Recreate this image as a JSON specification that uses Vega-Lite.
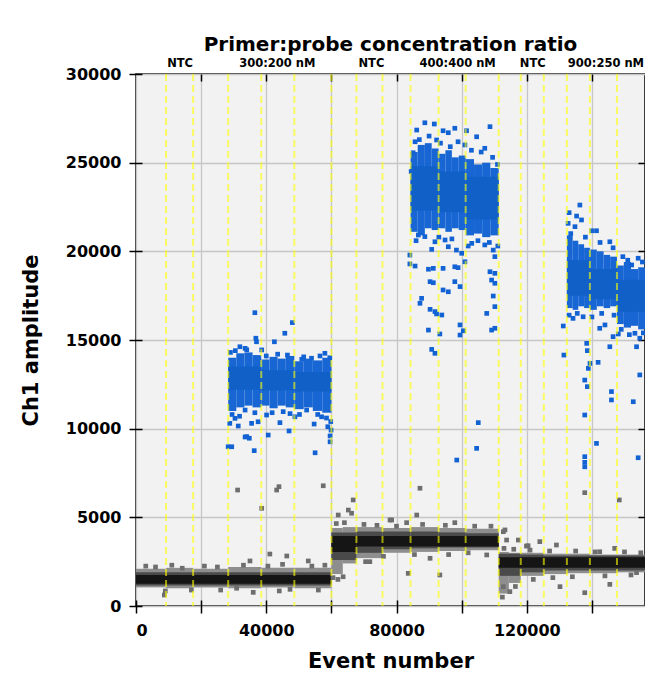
{
  "$schema": "https://vega.github.io/schema/vega-lite/v6.json",
  "width": 509,
  "height": 532,
  "autosize": {"type": "none"},
  "padding": {"left": 136, "top": 74, "right": 0, "bottom": 69},
  "background": "white",
  "config": {
    "view": {"fill": "#f2f2f2", "stroke": "black", "strokeWidth": 1.5},
    "font": "DejaVu Sans"
  },
  "title": {"text": "Primer:probe concentration ratio", "fontSize": 20, "fontWeight": "bold", "color": "black", "anchor": "middle", "offset": 0, "dy": -3, "font": "DejaVu Sans"},
  "datasets": {
    "rects": [
      {"x": 0, "x2": 9230, "y": 1050, "y2": 2100, "k": "f"},
      {"x": 9230, "x2": 17540, "y": 1000, "y2": 2150, "k": "f"},
      {"x": 17540, "x2": 28310, "y": 1050, "y2": 2100, "k": "f"},
      {"x": 28310, "x2": 38460, "y": 1000, "y2": 2200, "k": "f"},
      {"x": 38460, "x2": 48620, "y": 1050, "y2": 2150, "k": "f"},
      {"x": 48620, "x2": 60000, "y": 1000, "y2": 2150, "k": "f"},
      {"x": 0, "x2": 60000, "y": 1150, "y2": 1900, "k": "m"},
      {"x": 0, "x2": 60000, "y": 1250, "y2": 1750, "k": "c"},
      {"x": 60000, "x2": 63500, "y": 1800, "y2": 4400, "k": "f"},
      {"x": 63500, "x2": 67690, "y": 2400, "y2": 4450, "k": "f"},
      {"x": 67690, "x2": 75690, "y": 2700, "y2": 4450, "k": "f"},
      {"x": 75690, "x2": 84310, "y": 3000, "y2": 4400, "k": "f"},
      {"x": 84310, "x2": 92920, "y": 3050, "y2": 4450, "k": "f"},
      {"x": 92920, "x2": 101230, "y": 3100, "y2": 4400, "k": "f"},
      {"x": 101230, "x2": 111380, "y": 3150, "y2": 4350, "k": "f"},
      {"x": 60000, "x2": 67690, "y": 2600, "y2": 4150, "k": "m"},
      {"x": 67690, "x2": 75690, "y": 3000, "y2": 4200, "k": "m"},
      {"x": 75690, "x2": 84310, "y": 3200, "y2": 4200, "k": "m"},
      {"x": 84310, "x2": 92920, "y": 3250, "y2": 4200, "k": "m"},
      {"x": 92920, "x2": 101230, "y": 3300, "y2": 4150, "k": "m"},
      {"x": 101230, "x2": 111380, "y": 3300, "y2": 4100, "k": "m"},
      {"x": 60000, "x2": 67690, "y": 3050, "y2": 3950, "k": "c"},
      {"x": 67690, "x2": 111380, "y": 3350, "y2": 3950, "k": "c"},
      {"x": 111380, "x2": 114500, "y": 700, "y2": 3050, "k": "f"},
      {"x": 114500, "x2": 118150, "y": 1300, "y2": 3000, "k": "f"},
      {"x": 118150, "x2": 125230, "y": 1700, "y2": 3000, "k": "f"},
      {"x": 125230, "x2": 132310, "y": 1800, "y2": 2950, "k": "f"},
      {"x": 132310, "x2": 139380, "y": 1850, "y2": 2950, "k": "f"},
      {"x": 139380, "x2": 147690, "y": 1850, "y2": 2900, "k": "f"},
      {"x": 147690, "x2": 156300, "y": 1900, "y2": 2900, "k": "f"},
      {"x": 111380, "x2": 118150, "y": 1700, "y2": 2950, "k": "m"},
      {"x": 118150, "x2": 125230, "y": 1900, "y2": 2900, "k": "m"},
      {"x": 125230, "x2": 156300, "y": 2000, "y2": 2850, "k": "m"},
      {"x": 111380, "x2": 156300, "y": 2150, "y2": 2750, "k": "c"},
      {"x": 28310, "x2": 30800, "y": 11000, "y2": 14000, "k": "b"},
      {"x": 30800, "x2": 33300, "y": 11200, "y2": 14250, "k": "b"},
      {"x": 33300, "x2": 35800, "y": 11300, "y2": 14300, "k": "b"},
      {"x": 35800, "x2": 38460, "y": 11200, "y2": 14150, "k": "b"},
      {"x": 38460, "x2": 41000, "y": 11300, "y2": 13900, "k": "b"},
      {"x": 41000, "x2": 43500, "y": 11150, "y2": 14050, "k": "b"},
      {"x": 43500, "x2": 46000, "y": 11300, "y2": 13950, "k": "b"},
      {"x": 46000, "x2": 48620, "y": 11200, "y2": 14100, "k": "b"},
      {"x": 48620, "x2": 51500, "y": 11100, "y2": 13800, "k": "b"},
      {"x": 51500, "x2": 54300, "y": 11200, "y2": 13950, "k": "b"},
      {"x": 54300, "x2": 57200, "y": 11000, "y2": 13850, "k": "b"},
      {"x": 57200, "x2": 60000, "y": 10900, "y2": 14000, "k": "b"},
      {"x": 84310, "x2": 86500, "y": 21100, "y2": 25600, "k": "b"},
      {"x": 86500, "x2": 88700, "y": 20900, "y2": 26000, "k": "b"},
      {"x": 88700, "x2": 90800, "y": 21300, "y2": 26100, "k": "b"},
      {"x": 90800, "x2": 92920, "y": 21200, "y2": 25800, "k": "b"},
      {"x": 92920, "x2": 95000, "y": 21300, "y2": 25500, "k": "b"},
      {"x": 95000, "x2": 97000, "y": 21100, "y2": 25700, "k": "b"},
      {"x": 97000, "x2": 99100, "y": 21300, "y2": 25300, "k": "b"},
      {"x": 99100, "x2": 101230, "y": 21200, "y2": 25400, "k": "b"},
      {"x": 101230, "x2": 103800, "y": 20900, "y2": 25200, "k": "b"},
      {"x": 103800, "x2": 106300, "y": 21000, "y2": 24900, "k": "b"},
      {"x": 106300, "x2": 108800, "y": 20800, "y2": 25000, "k": "b"},
      {"x": 108800, "x2": 111380, "y": 20900, "y2": 24700, "k": "b"},
      {"x": 132310, "x2": 134100, "y": 16800, "y2": 20900, "k": "b"},
      {"x": 134100, "x2": 135800, "y": 16700, "y2": 20600, "k": "b"},
      {"x": 135800, "x2": 137600, "y": 16900, "y2": 20400, "k": "b"},
      {"x": 137600, "x2": 139380, "y": 16800, "y2": 20200, "k": "b"},
      {"x": 139380, "x2": 141500, "y": 16700, "y2": 20100, "k": "b"},
      {"x": 141500, "x2": 143600, "y": 16900, "y2": 20000, "k": "b"},
      {"x": 143600, "x2": 145600, "y": 16800, "y2": 19800, "k": "b"},
      {"x": 145600, "x2": 147690, "y": 16900, "y2": 19700, "k": "b"},
      {"x": 147690, "x2": 149800, "y": 15900, "y2": 19200, "k": "b"},
      {"x": 149800, "x2": 152000, "y": 15700, "y2": 19400, "k": "b"},
      {"x": 152000, "x2": 154200, "y": 15800, "y2": 19000, "k": "b"},
      {"x": 154200, "x2": 156300, "y": 15600, "y2": 19100, "k": "b"},
      {"x": 28310, "x2": 38460, "y": 12200, "y2": 13500, "k": "d"},
      {"x": 38460, "x2": 48620, "y": 12150, "y2": 13300, "k": "d"},
      {"x": 48620, "x2": 60000, "y": 12100, "y2": 13200, "k": "d"},
      {"x": 84310, "x2": 92920, "y": 22300, "y2": 24800, "k": "d"},
      {"x": 92920, "x2": 101230, "y": 22200, "y2": 24500, "k": "d"},
      {"x": 101230, "x2": 111380, "y": 21800, "y2": 24200, "k": "d"},
      {"x": 132310, "x2": 139380, "y": 17500, "y2": 19500, "k": "d"},
      {"x": 139380, "x2": 147690, "y": 17300, "y2": 19000, "k": "d"},
      {"x": 147690, "x2": 156300, "y": 16600, "y2": 18400, "k": "d"}
    ],
    "pts": [
      {"x": 36500, "y": 16540, "k": "p"}, {"x": 48000, "y": 15980, "k": "p"}, {"x": 45700, "y": 15380, "k": "p"}, {"x": 36800, "y": 15100, "k": "p"},
      {"x": 37000, "y": 14900, "k": "p"}, {"x": 42500, "y": 14900, "k": "p"}, {"x": 31900, "y": 14620, "k": "p"}, {"x": 58000, "y": 14250, "k": "p"},
      {"x": 33500, "y": 14530, "k": "p"}, {"x": 38600, "y": 14440, "k": "p"}, {"x": 50900, "y": 13910, "k": "p"}, {"x": 53900, "y": 13970, "k": "p"},
      {"x": 29400, "y": 8980, "k": "p"}, {"x": 28300, "y": 8980, "k": "p"}, {"x": 34000, "y": 9550, "k": "p"}, {"x": 34800, "y": 9460, "k": "p"},
      {"x": 36300, "y": 8760, "k": "p"}, {"x": 40600, "y": 9640, "k": "p"}, {"x": 47000, "y": 9870, "k": "p"}, {"x": 55000, "y": 8640, "k": "p"},
      {"x": 58900, "y": 10110, "k": "p"}, {"x": 59900, "y": 9920, "k": "p"}, {"x": 59600, "y": 9590, "k": "p"}, {"x": 59600, "y": 9260, "k": "p"},
      {"x": 33500, "y": 9530, "k": "p"}, {"x": 31400, "y": 10150, "k": "p"}, {"x": 35500, "y": 10300, "k": "p"}, {"x": 37500, "y": 10390, "k": "p"},
      {"x": 44200, "y": 10340, "k": "p"}, {"x": 48800, "y": 10670, "k": "p"}, {"x": 54700, "y": 10260, "k": "p"}, {"x": 52400, "y": 11050, "k": "p"},
      {"x": 40100, "y": 10770, "k": "p"}, {"x": 33500, "y": 11050, "k": "p"}, {"x": 30400, "y": 10580, "k": "p"}, {"x": 45200, "y": 10960, "k": "p"},
      {"x": 57000, "y": 10670, "k": "p"}, {"x": 29000, "y": 14300, "k": "p"}, {"x": 30500, "y": 14400, "k": "p"}, {"x": 34000, "y": 14450, "k": "p"},
      {"x": 40000, "y": 14100, "k": "p"}, {"x": 43500, "y": 14200, "k": "p"}, {"x": 46500, "y": 14150, "k": "p"}, {"x": 51500, "y": 14050, "k": "p"},
      {"x": 56500, "y": 14100, "k": "p"}, {"x": 59500, "y": 14000, "k": "p"}, {"x": 29500, "y": 10800, "k": "p"}, {"x": 31800, "y": 10700, "k": "p"},
      {"x": 36500, "y": 10900, "k": "p"}, {"x": 41800, "y": 10900, "k": "p"}, {"x": 47300, "y": 10850, "k": "p"}, {"x": 50200, "y": 10800, "k": "p"},
      {"x": 55800, "y": 10800, "k": "p"}, {"x": 58500, "y": 10600, "k": "p"}, {"x": 28800, "y": 10300, "k": "p"}, {"x": 59800, "y": 10400, "k": "p"},
      {"x": 88700, "y": 27250, "k": "p"}, {"x": 91600, "y": 27180, "k": "p"}, {"x": 86200, "y": 26840, "k": "p"}, {"x": 94300, "y": 26800, "k": "p"},
      {"x": 95900, "y": 26690, "k": "p"}, {"x": 97900, "y": 26940, "k": "p"}, {"x": 101500, "y": 26800, "k": "p"}, {"x": 104600, "y": 26460, "k": "p"},
      {"x": 108700, "y": 27030, "k": "p"}, {"x": 107100, "y": 25810, "k": "p"}, {"x": 98900, "y": 26180, "k": "p"}, {"x": 101000, "y": 26000, "k": "p"},
      {"x": 92300, "y": 26280, "k": "p"}, {"x": 85700, "y": 26180, "k": "p"}, {"x": 85100, "y": 25560, "k": "p"},
      {"x": 86700, "y": 20920, "k": "p"}, {"x": 88700, "y": 20830, "k": "p"}, {"x": 91800, "y": 20540, "k": "p"}, {"x": 95900, "y": 20260, "k": "p"},
      {"x": 98400, "y": 20070, "k": "p"}, {"x": 100000, "y": 19890, "k": "p"}, {"x": 103100, "y": 20450, "k": "p"}, {"x": 107100, "y": 20360, "k": "p"},
      {"x": 109700, "y": 20070, "k": "p"}, {"x": 110200, "y": 19700, "k": "p"}, {"x": 94900, "y": 20640, "k": "p"},
      {"x": 84100, "y": 19790, "k": "p"}, {"x": 84100, "y": 19290, "k": "p"}, {"x": 85700, "y": 19170, "k": "p"}, {"x": 90800, "y": 20110, "k": "p"},
      {"x": 89800, "y": 18990, "k": "p"}, {"x": 91300, "y": 19040, "k": "p"}, {"x": 94300, "y": 19040, "k": "p"}, {"x": 97900, "y": 19130, "k": "p"},
      {"x": 98900, "y": 19080, "k": "p"}, {"x": 101000, "y": 19410, "k": "p"}, {"x": 108700, "y": 18850, "k": "p"}, {"x": 110200, "y": 18760, "k": "p"},
      {"x": 90300, "y": 18290, "k": "p"}, {"x": 91300, "y": 18230, "k": "p"}, {"x": 97900, "y": 18290, "k": "p"}, {"x": 99500, "y": 18010, "k": "p"},
      {"x": 94300, "y": 17820, "k": "p"}, {"x": 95900, "y": 17720, "k": "p"}, {"x": 87700, "y": 17350, "k": "p"}, {"x": 87200, "y": 17070, "k": "p"},
      {"x": 90300, "y": 16730, "k": "p"}, {"x": 91800, "y": 16600, "k": "p"}, {"x": 92300, "y": 16470, "k": "p"}, {"x": 93900, "y": 16410, "k": "p"},
      {"x": 99500, "y": 15850, "k": "p"}, {"x": 100500, "y": 15520, "k": "p"}, {"x": 99500, "y": 15280, "k": "p"}, {"x": 89800, "y": 15560, "k": "p"},
      {"x": 93300, "y": 15340, "k": "p"}, {"x": 109200, "y": 15560, "k": "p"}, {"x": 110200, "y": 15660, "k": "p"}, {"x": 109700, "y": 17480, "k": "p"},
      {"x": 110200, "y": 16880, "k": "p"}, {"x": 107700, "y": 16500, "k": "p"}, {"x": 110200, "y": 18200, "k": "p"}, {"x": 109200, "y": 18380, "k": "p"},
      {"x": 90800, "y": 14470, "k": "p"}, {"x": 91800, "y": 14250, "k": "p"}, {"x": 105100, "y": 10340, "k": "p"}, {"x": 104600, "y": 8890, "k": "p"},
      {"x": 98500, "y": 8230, "k": "p"},
      {"x": 87000, "y": 26300, "k": "p"}, {"x": 90000, "y": 26500, "k": "p"}, {"x": 93500, "y": 26100, "k": "p"}, {"x": 96500, "y": 25900, "k": "p"},
      {"x": 103000, "y": 25700, "k": "p"}, {"x": 106000, "y": 25600, "k": "p"}, {"x": 109500, "y": 25300, "k": "p"}, {"x": 111000, "y": 24900, "k": "p"},
      {"x": 84500, "y": 24500, "k": "p"}, {"x": 86000, "y": 20600, "k": "p"}, {"x": 93000, "y": 20800, "k": "p"}, {"x": 97000, "y": 20700, "k": "p"},
      {"x": 102000, "y": 20300, "k": "p"}, {"x": 105000, "y": 20600, "k": "p"}, {"x": 108500, "y": 20500, "k": "p"}, {"x": 111100, "y": 20300, "k": "p"},
      {"x": 136300, "y": 22610, "k": "p"}, {"x": 133000, "y": 22180, "k": "p"}, {"x": 135300, "y": 21990, "k": "p"}, {"x": 136800, "y": 21770, "k": "p"},
      {"x": 134800, "y": 21390, "k": "p"}, {"x": 132700, "y": 21580, "k": "p"}, {"x": 141400, "y": 21160, "k": "p"}, {"x": 139900, "y": 21160, "k": "p"},
      {"x": 145500, "y": 20540, "k": "p"}, {"x": 152200, "y": 19230, "k": "p"}, {"x": 154200, "y": 19610, "k": "p"}, {"x": 131200, "y": 15790, "k": "p"},
      {"x": 131400, "y": 14150, "k": "p"}, {"x": 137800, "y": 10770, "k": "p"}, {"x": 137800, "y": 8420, "k": "p"}, {"x": 137800, "y": 7850, "k": "p"},
      {"x": 141400, "y": 9170, "k": "p"}, {"x": 139400, "y": 13680, "k": "p"}, {"x": 141900, "y": 13740, "k": "p"}, {"x": 137800, "y": 12740, "k": "p"},
      {"x": 138600, "y": 12370, "k": "p"}, {"x": 146000, "y": 12090, "k": "p"}, {"x": 146000, "y": 11620, "k": "p"}, {"x": 152700, "y": 11520, "k": "p"},
      {"x": 154700, "y": 13030, "k": "p"}, {"x": 145500, "y": 14620, "k": "p"}, {"x": 146500, "y": 15190, "k": "p"}, {"x": 148100, "y": 15340, "k": "p"},
      {"x": 142400, "y": 15660, "k": "p"}, {"x": 144000, "y": 15850, "k": "p"}, {"x": 134200, "y": 16220, "k": "p"}, {"x": 137300, "y": 16310, "k": "p"},
      {"x": 138400, "y": 14810, "k": "p"}, {"x": 138600, "y": 14400, "k": "p"}, {"x": 138900, "y": 13400, "k": "p"}, {"x": 153700, "y": 14620, "k": "p"},
      {"x": 154700, "y": 15100, "k": "p"}, {"x": 153200, "y": 15380, "k": "p"}, {"x": 154200, "y": 8360, "k": "p"}, {"x": 137800, "y": 8100, "k": "p"},
      {"x": 133500, "y": 21000, "k": "p"}, {"x": 138000, "y": 20800, "k": "p"}, {"x": 142500, "y": 20500, "k": "p"}, {"x": 146500, "y": 20200, "k": "p"},
      {"x": 149500, "y": 19700, "k": "p"}, {"x": 151000, "y": 19500, "k": "p"}, {"x": 155500, "y": 19400, "k": "p"}, {"x": 133000, "y": 16400, "k": "p"},
      {"x": 135500, "y": 16500, "k": "p"}, {"x": 140000, "y": 16300, "k": "p"}, {"x": 143000, "y": 16500, "k": "p"}, {"x": 146800, "y": 16400, "k": "p"},
      {"x": 149000, "y": 15600, "k": "p"}, {"x": 151500, "y": 15300, "k": "p"}, {"x": 155800, "y": 15400, "k": "p"},
      {"x": 41100, "y": 2930, "k": "n"}, {"x": 46300, "y": 2820, "k": "n"}, {"x": 35000, "y": 2540, "k": "n"}, {"x": 52900, "y": 2540, "k": "n"},
      {"x": 14200, "y": 2130, "k": "n"}, {"x": 8700, "y": 620, "k": "n"}, {"x": 36000, "y": 770, "k": "n"}, {"x": 47300, "y": 940, "k": "n"},
      {"x": 30900, "y": 1000, "k": "n"}, {"x": 31200, "y": 6540, "k": "n"}, {"x": 43200, "y": 6540, "k": "n"}, {"x": 43900, "y": 6730, "k": "n"},
      {"x": 57500, "y": 6780, "k": "n"}, {"x": 38600, "y": 5510, "k": "n"}, {"x": 66700, "y": 5980, "k": "n"}, {"x": 65200, "y": 5410, "k": "n"},
      {"x": 66200, "y": 5230, "k": "n"}, {"x": 87200, "y": 6640, "k": "n"}, {"x": 62100, "y": 5130, "k": "n"}, {"x": 86200, "y": 5130, "k": "n"},
      {"x": 78000, "y": 4850, "k": "n"}, {"x": 83100, "y": 4700, "k": "n"}, {"x": 97900, "y": 4700, "k": "n"}, {"x": 113300, "y": 4290, "k": "n"},
      {"x": 113800, "y": 3720, "k": "n"}, {"x": 63600, "y": 1650, "k": "n"}, {"x": 90300, "y": 2690, "k": "n"}, {"x": 93300, "y": 1750, "k": "n"},
      {"x": 107700, "y": 2880, "k": "n"}, {"x": 83600, "y": 1840, "k": "n"}, {"x": 71800, "y": 2500, "k": "n"}, {"x": 120400, "y": 3400, "k": "n"},
      {"x": 124000, "y": 3630, "k": "n"}, {"x": 129100, "y": 3440, "k": "n"}, {"x": 117400, "y": 3720, "k": "n"}, {"x": 112800, "y": 4190, "k": "n"},
      {"x": 112800, "y": 1090, "k": "n"}, {"x": 114800, "y": 810, "k": "n"}, {"x": 130200, "y": 1090, "k": "n"}, {"x": 137800, "y": 750, "k": "n"},
      {"x": 145500, "y": 1220, "k": "n"}, {"x": 153700, "y": 1880, "k": "n"}, {"x": 142400, "y": 3060, "k": "n"}, {"x": 147000, "y": 3250, "k": "n"},
      {"x": 137800, "y": 6390, "k": "n"}, {"x": 148400, "y": 5980, "k": "n"}, {"x": 78500, "y": 4850, "k": "n"}, {"x": 119900, "y": 3380, "k": "n"},
      {"x": 3000, "y": 2250, "k": "n"}, {"x": 6000, "y": 2200, "k": "n"}, {"x": 11000, "y": 2300, "k": "n"}, {"x": 21000, "y": 2250, "k": "n"},
      {"x": 25000, "y": 2200, "k": "n"}, {"x": 33000, "y": 2300, "k": "n"}, {"x": 40500, "y": 2250, "k": "n"}, {"x": 45000, "y": 2350, "k": "n"},
      {"x": 54000, "y": 2250, "k": "n"}, {"x": 58000, "y": 2300, "k": "n"}, {"x": 9000, "y": 850, "k": "n"}, {"x": 17000, "y": 900, "k": "n"},
      {"x": 26000, "y": 900, "k": "n"}, {"x": 44000, "y": 850, "k": "n"}, {"x": 56000, "y": 900, "k": "n"},
      {"x": 61500, "y": 4650, "k": "n"}, {"x": 64000, "y": 4700, "k": "n"}, {"x": 70000, "y": 4600, "k": "n"}, {"x": 74000, "y": 4550, "k": "n"},
      {"x": 80000, "y": 4500, "k": "n"}, {"x": 88000, "y": 4600, "k": "n"}, {"x": 95000, "y": 4550, "k": "n"}, {"x": 104000, "y": 4500, "k": "n"},
      {"x": 109000, "y": 4500, "k": "n"}, {"x": 70500, "y": 2500, "k": "n"}, {"x": 76000, "y": 2800, "k": "n"}, {"x": 85500, "y": 2900, "k": "n"},
      {"x": 96000, "y": 2900, "k": "n"}, {"x": 102000, "y": 3000, "k": "n"}, {"x": 60500, "y": 1600, "k": "n"}, {"x": 62000, "y": 1500, "k": "n"},
      {"x": 113000, "y": 3250, "k": "n"}, {"x": 116000, "y": 3200, "k": "n"}, {"x": 121000, "y": 3150, "k": "n"}, {"x": 127000, "y": 3100, "k": "n"},
      {"x": 135000, "y": 3100, "k": "n"}, {"x": 141000, "y": 3050, "k": "n"}, {"x": 150000, "y": 3050, "k": "n"}, {"x": 155000, "y": 3000, "k": "n"},
      {"x": 112500, "y": 500, "k": "n"}, {"x": 116500, "y": 1100, "k": "n"}, {"x": 122000, "y": 1500, "k": "n"}, {"x": 128000, "y": 1600, "k": "n"},
      {"x": 134000, "y": 1650, "k": "n"}, {"x": 144000, "y": 1700, "k": "n"}, {"x": 152000, "y": 1750, "k": "n"}
    ],
    "wells": [
      {"x": 9230}, {"x": 17540}, {"x": 28310}, {"x": 38460}, {"x": 48620}, {"x": 60000}, {"x": 67690}, {"x": 75690}, {"x": 84310},
      {"x": 92920}, {"x": 101230}, {"x": 111380}, {"x": 118150}, {"x": 125230}, {"x": 132310}, {"x": 139380}, {"x": 147690}
    ],
    "labels": [
      {"x": 13540, "label": "NTC"}, {"x": 43400, "label": "300:200 nM"}, {"x": 72300, "label": "NTC"},
      {"x": 98770, "label": "400:400 nM"}, {"x": 121850, "label": "NTC"}, {"x": 144300, "label": "900:250 nM"}
    ]
  },
  "resolve": {"axis": {"x": "independent", "y": "independent"}},
  "layer": [
    {
      "data": {"name": "rects"},
      "mark": {"type": "rect"},
      "encoding": {
        "x": {
          "field": "x", "type": "quantitative",
          "scale": {"domain": [0, 156300], "nice": false, "zero": false},
          "axis": {
            "orient": "bottom", "title": "Event number", "values": [0, 20000, 40000, 60000, 80000, 100000, 120000, 140000],
            "format": "d", "labelExpr": "datum.value % 40000 === 0 ? datum.label : ''",
            "domain": false, "offset": -6, "tickSize": 13, "tickColor": "black", "tickWidth": 1.5,
            "labelFont": "DejaVu Sans", "labelFontSize": 16, "labelFontWeight": "bold", "labelColor": "black", "labelPadding": 9,
            "titleFont": "DejaVu Sans", "titleFontSize": 21, "titleFontWeight": "bold", "titleColor": "black", "titlePadding": 12,
            "grid": true, "gridColor": "#c6c6c6", "gridWidth": 1.3
          }
        },
        "x2": {"field": "x2"},
        "y": {
          "field": "y", "type": "quantitative",
          "scale": {"domain": [0, 30000], "nice": false, "zero": false},
          "axis": {
            "orient": "left", "title": "Ch1 amplitude", "values": [0, 5000, 10000, 15000, 20000, 25000, 30000],
            "format": "d", "domain": false, "offset": -6, "tickSize": 13, "tickColor": "black", "tickWidth": 1.5,
            "labelFont": "DejaVu Sans", "labelFontSize": 16, "labelFontWeight": "bold", "labelColor": "black", "labelPadding": 8,
            "titleFont": "DejaVu Sans", "titleFontSize": 21, "titleFontWeight": "bold", "titleColor": "black", "titlePadding": 24,
            "grid": true, "gridColor": "#c6c6c6", "gridWidth": 1.3
          }
        },
        "y2": {"field": "y2"},
        "color": {
          "field": "k", "type": "nominal", "legend": null,
          "scale": {"domain": ["f", "m", "c", "b", "d", "p", "n"], "range": ["#8e8e8e", "#4a4a4a", "#151515", "#1766d4", "#1160c8", "#1262d4", "#6e6e6e"]}
        }
      }
    },
    {
      "data": {"name": "pts"},
      "mark": {"type": "point", "shape": "square", "filled": true, "size": 22, "opacity": 1},
      "encoding": {
        "x": {"field": "x", "type": "quantitative", "axis": null},
        "y": {"field": "y", "type": "quantitative", "axis": null},
        "color": {
          "field": "k", "type": "nominal", "legend": null,
          "scale": {"domain": ["f", "m", "c", "b", "d", "p", "n"], "range": ["#8e8e8e", "#4a4a4a", "#151515", "#1766d4", "#1160c8", "#1262d4", "#6e6e6e"]}
        }
      }
    },
    {
      "data": {"name": "wells"},
      "mark": {"type": "rule", "color": "#ffff00", "opacity": 0.6, "strokeWidth": 2, "strokeDash": [7, 4]},
      "encoding": {
        "x": {
          "field": "x", "type": "quantitative",
          "axis": {"orient": "top", "title": null, "labels": false, "domain": false, "grid": false, "offset": -7, "tickSize": 7, "tickColor": "black", "tickWidth": 1.5,
                   "values": [20000, 40000, 60000, 80000, 100000, 120000, 140000]}
        }
      }
    },
    {
      "mark": {"type": "rule", "color": "#ff00ff", "strokeWidth": 4},
      "encoding": {
        "y": {
          "datum": 7483, "type": "quantitative",
          "axis": {"orient": "right", "title": null, "labels": false, "domain": false, "grid": false, "offset": -7, "tickSize": 7, "tickColor": "black", "tickWidth": 1.5,
                   "values": [5000, 10000, 15000, 20000, 25000]}
        }
      }
    },
    {
      "mark": {"type": "text", "align": "right", "baseline": "alphabetic", "dy": -5, "fontSize": 14, "font": "DejaVu Sans", "color": "black"},
      "encoding": {
        "x": {"datum": 156000, "type": "quantitative", "axis": null},
        "y": {"datum": 7483, "type": "quantitative", "axis": null},
        "text": {"value": "7483"}
      }
    },
    {
      "data": {"name": "labels"},
      "mark": {"type": "text", "align": "center", "baseline": "middle", "fontSize": 11.5, "fontWeight": "bold", "font": "DejaVu Sans", "color": "black"},
      "encoding": {
        "x": {"field": "x", "type": "quantitative", "axis": null},
        "y": {"datum": 30580, "type": "quantitative", "axis": null},
        "text": {"field": "label"}
      }
    }
  ]
}
